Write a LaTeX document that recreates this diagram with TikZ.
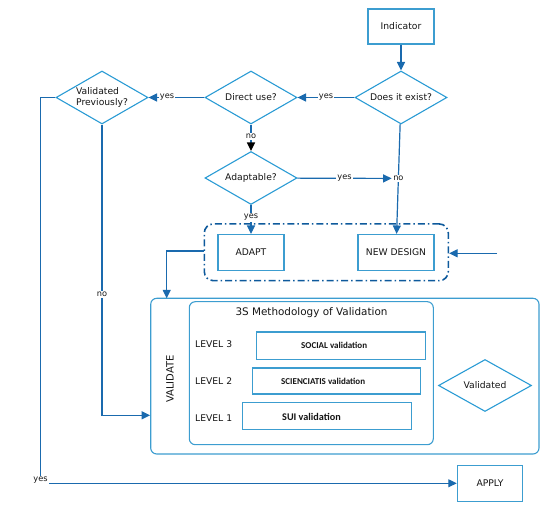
\documentclass[tikz,border=0pt]{standalone}
\usepackage{fontspec}
\setmainfont{DejaVu Sans}
\newfontfamily\calib{Carlito}
\usetikzlibrary{shapes.geometric,arrows.meta}
\definecolor{boxblue}{HTML}{3C9DD0}
\definecolor{dmblue}{HTML}{2A9BD4}
\definecolor{lnblue}{HTML}{1A6AAE}
\definecolor{dkblue}{HTML}{0E5A9C}
\definecolor{txt}{HTML}{141414}
\begin{document}
\begin{tikzpicture}[x=1pt,y=-1pt,
  every node/.style={text=txt,font=\fontsize{9.2}{11}\selectfont},
  boxn/.style={draw=boxblue,line width=1.1pt,rectangle,inner sep=0pt},
  dmn/.style={draw=dmblue,line width=1.1pt,diamond,inner sep=0pt,shape aspect=1.74},
  conn/.style={draw=lnblue,line width=1.2pt},
  tip/.style={-{Triangle[length=8.5pt,width=8pt]}},
  arr/.style={conn,tip},
  lbl/.style={fill=white,inner sep=1pt,font=\fontsize{8.2}{9}\selectfont},
  rnd/.style={draw=boxblue,line width=1.1pt,rectangle,rounded corners=6pt,inner sep=0pt},
  small/.style={font=\calib\bfseries\fontsize{9}{10}\selectfont}
]
\useasboundingbox (0,0) rectangle (550,508);
% top flow
\node[boxn,minimum width=66pt,minimum height=35pt] (ind) at (401,26.5) {Indicator};
\node[dmn,minimum width=92pt,minimum height=53pt] (exist) at (401,97.5) {Does it exist?};
\node[dmn,minimum width=92pt,minimum height=53pt] (direct) at (251,97.5) {Direct use?};
\node[dmn,minimum width=92pt,minimum height=53pt,align=left] (valprev) at (102,97.5) {Validated\\Previously?};
\node[dmn,minimum width=92pt,minimum height=53pt] (adaptq) at (251,178) {Adaptable?};
% group
\node[draw=dkblue,line width=1.6pt,rectangle,rounded corners=9pt,dash pattern=on 7pt off 3pt on 1.5pt off 3pt,minimum width=244pt,minimum height=56.7pt] (grp) at (326.3,252.3) {};
\node[boxn,minimum width=66pt,minimum height=36pt] (adapt) at (251,252.5) {ADAPT};
\node[boxn,minimum width=76pt,minimum height=36pt] (nd) at (396,252.5) {NEW DESIGN};
\coordinate (ext) at (497,253.3);
% validate
\node[rnd,minimum width=388.3pt,minimum height=155.7pt] (val) at (344.85,376.15) {};
\node[rnd,minimum width=244pt,minimum height=143pt] (meth) at (311.3,373.2) {};
\node[font=\fontsize{10.4}{12}\selectfont] (title) at (311.5,312.3) {3S Methodology of Validation};
\node[rotate=90,font=\fontsize{10}{12}\selectfont] (vtxt) at (170,379) {VALIDATE};
\node[anchor=west,inner sep=0pt] (l3) at (195,344) {LEVEL 3};
\node[anchor=west,inner sep=0pt] (l2) at (195,381) {LEVEL 2};
\node[anchor=west,inner sep=0pt] (l1) at (195,417.7) {LEVEL 1};
\node[boxn,minimum width=168.6pt,minimum height=27.3pt] (soc) at (341,345.7) {};
\node[boxn,minimum width=168.4pt,minimum height=26pt] (sci) at (336.5,381) {};
\node[boxn,minimum width=169.4pt,minimum height=27pt] (sui) at (327,416.2) {};
\node[small,anchor=west,inner sep=0pt] (soct) at (301,345) {SOCIAL validation};
\node[small,anchor=west,inner sep=0pt] (scit) at (281,381) {SCIENCIATIS validation};
\node[small,anchor=west,inner sep=0pt,font=\calib\bfseries\fontsize{10.2}{12}\selectfont] (suit) at (282,417) {SUI validation};
\node[dmn,minimum width=93pt,minimum height=52pt] (vd) at (485,385.5) {Validated};
\node[boxn,minimum width=65.4pt,minimum height=36pt] (apply) at (490,483.3) {APPLY};
% connectors
\draw[arr] (ind) -- (exist);
\draw[arr] (exist) -- node[lbl,pos=0.5] {yes} (direct);
\draw[arr] (direct) -- node[lbl,pos=0.67] {yes} (valprev);
\draw[conn,-{Triangle[length=8.5pt,width=8pt,color=black]}] (direct) -- node[lbl,pos=0.45] {no} (adaptq);
\draw[arr] (exist) -- node[lbl,pos=0.495] (nolbl) {no} (nd);
\draw[arr] (adaptq) -- node[lbl,pos=0.5] {yes} (nolbl);
\draw[arr] (adaptq) -- node[lbl,pos=0.43] {yes} (adapt);
\draw[arr] (ext) -- (grp.east |- ext);
\coordinate (vin) at (166.7,298.3);
\draw[arr] (grp.west |- 0,251) -| (vin);
\coordinate (nobend) at (102,415.3);
\draw[arr] (valprev) -- node[lbl,pos=0.584] {no} (nobend) -- (val.west |- nobend);
\coordinate (ya) at (40.7,97.5);
\coordinate (yb) at (40.7,483.3);
\draw[arr] (valprev) -- (ya) -- (yb) -- (apply);
\node[lbl] (yeslbl) at (40.5,480.5) {yes};
\end{tikzpicture}
\end{document}
